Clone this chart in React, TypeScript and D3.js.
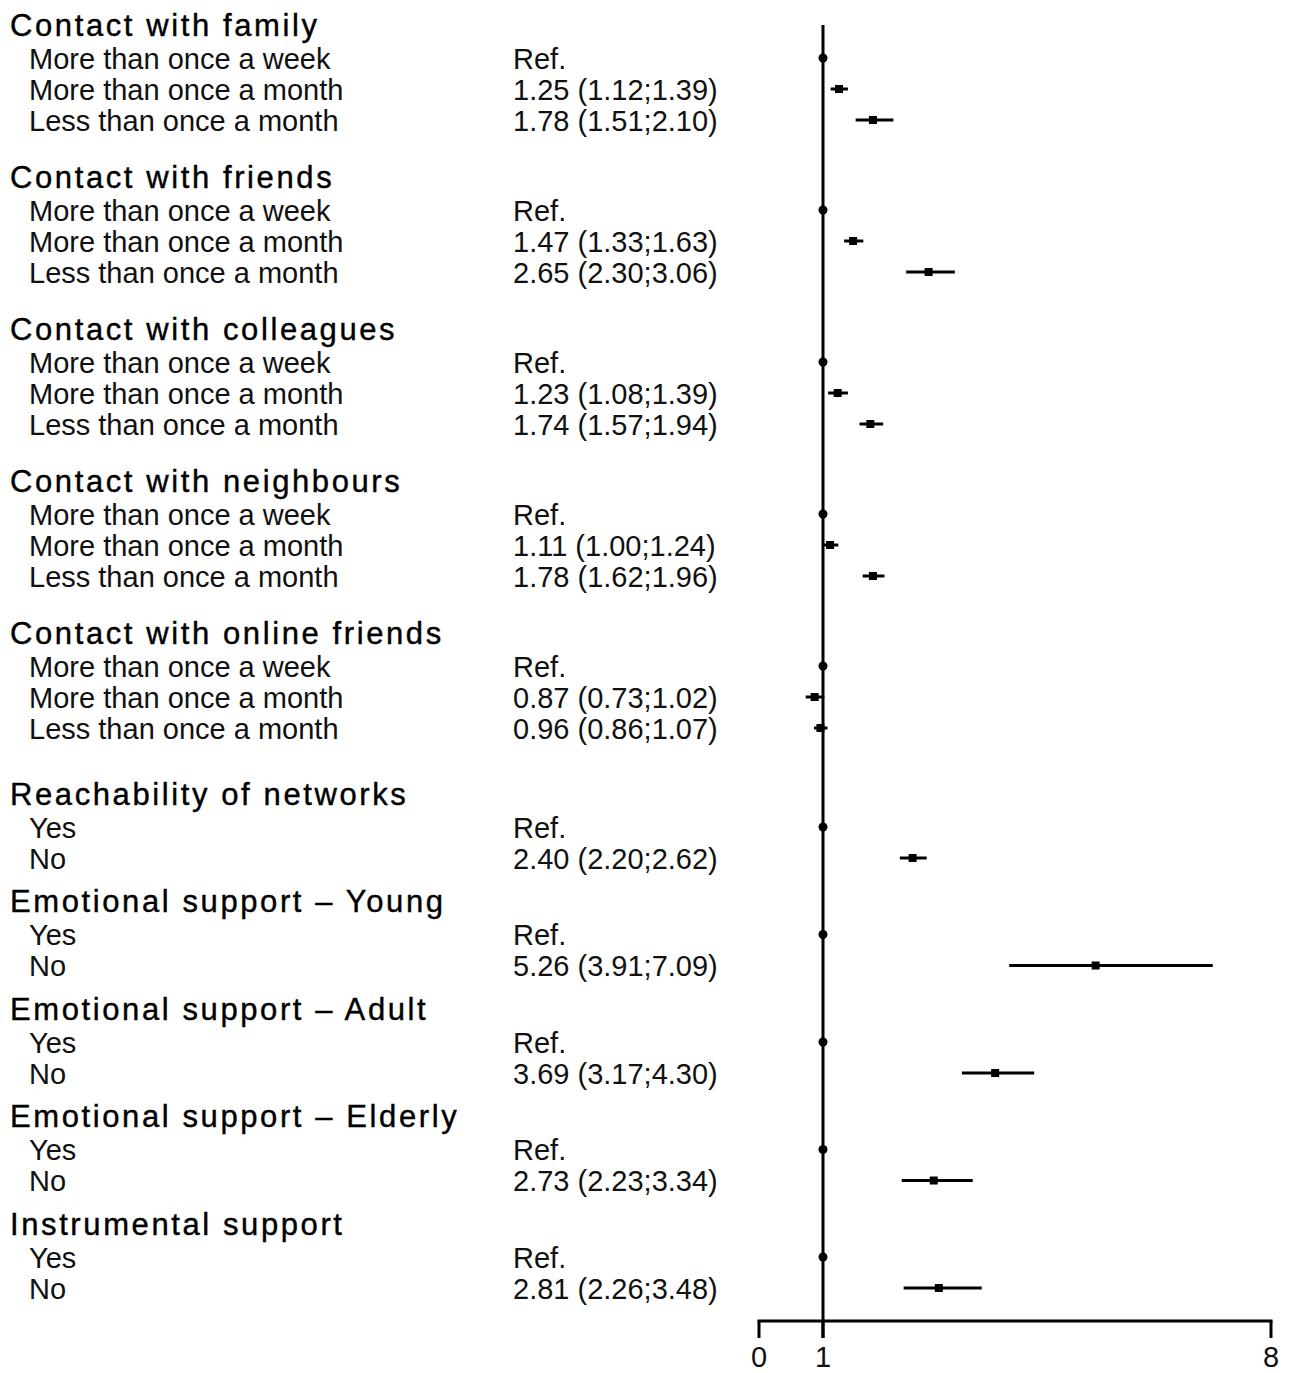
import React from "react";
import * as d3 from "d3";

// ---- data ----
const groupTitles = [
  "Contact with family",
  "Contact with friends",
  "Contact with colleagues",
  "Contact with neighbours",
  "Contact with online friends",
  "Reachability of networks",
  "Emotional support \u2013 Young",
  "Emotional support \u2013 Adult",
  "Emotional support \u2013 Elderly",
  "Instrumental support",
];
const freqLevels = ["More than once a week", "More than once a month", "Less than once a month"];
const yesNoLevels = ["Yes", "No"];

// estimate, lower, upper (null = reference)
const family = [null, [1.25, 1.12, 1.39], [1.78, 1.51, 2.1]];
const friends = [null, [1.47, 1.33, 1.63], [2.65, 2.3, 3.06]];
const colleagues = [null, [1.23, 1.08, 1.39], [1.74, 1.57, 1.94]];
const neighbours = [null, [1.11, 1.0, 1.24], [1.78, 1.62, 1.96]];
const onlineFriends = [null, [0.87, 0.73, 1.02], [0.96, 0.86, 1.07]];
const reachability = [null, [2.4, 2.2, 2.62]];
const emoYoung = [null, [5.26, 3.91, 7.09]];
const emoAdult = [null, [3.69, 3.17, 4.3]];
const emoElderly = [null, [2.73, 2.23, 3.34]];
const instrumental = [null, [2.81, 2.26, 3.48]];

const groupValues = [family, friends, colleagues, neighbours, onlineFriends, reachability, emoYoung, emoAdult, emoElderly, instrumental];
const groupLevels = [freqLevels, freqLevels, freqLevels, freqLevels, freqLevels, yesNoLevels, yesNoLevels, yesNoLevels, yesNoLevels, yesNoLevels];

const axisTicks = [0, 1, 8];
const refValue = 1;

function fmt(v: number[] | null) {
  if (!v) return "Ref.";
  const f = d3.format(".2f");
  return `${f(v[0])} (${f(v[1])};${f(v[2])})`;
}

export default function App() {
  const W = 1291;
  const H = 1373;
  const x = d3.scaleLinear().domain([0, 8]).range([759, 1271]);

  // layout
  const headerToItem = 33;
  const itemStep = 31;
  type Row = { kind: "h" | "i"; y: number; label: string; val?: number[] | null };
  const rows: Row[] = [];
  let y = 25;
  groupTitles.forEach((t, gi) => {
    rows.push({ kind: "h", y, label: t });
    const levels = groupLevels[gi];
    levels.forEach((lv, li) => {
      rows.push({ kind: "i", y: y + headerToItem + itemStep * li, label: lv, val: groupValues[gi][li] as any });
    });
    const lastY = y + headerToItem + itemStep * (levels.length - 1);
    const next = gi + 1 < groupTitles.length ? groupLevels[gi + 1].length : 0;
    let gap = levels.length === 3 ? 57 : 43.5;
    if (levels.length === 3 && next === 2) gap = 66;
    y = lastY + gap;
  });

  const axisY = 1321;
  const tickLen = 17;
  const font = "'Liberation Sans', Arial, Helvetica, sans-serif";

  return (
    <svg width={W} height={H} style={{ position: "absolute", left: 0, top: 0, background: "#fff" }} fontFamily={font}>
      <rect width={W} height={H} fill="#fff" />
      {rows.map((r, i) =>
        r.kind === "h" ? (
          <text key={i} x={10} y={r.y + 10.5} fontSize={31} letterSpacing={2.6} fill="#000" stroke="#000" strokeWidth={0.4}>
            {r.label}
          </text>
        ) : (
          <g key={i}>
            <text x={29} y={r.y + 10.5} fontSize={29} fill="#111">
              {r.label}
            </text>
            <text x={513} y={r.y + 10.5} fontSize={29} fill="#111">
              {fmt(r.val as any)}
            </text>
          </g>
        )
      )}
      {/* reference line */}
      <line x1={x(refValue)} x2={x(refValue)} y1={25} y2={axisY + tickLen} stroke="#000" strokeWidth={3} />
      {/* axis */}
      <line x1={x(0) - 1.5} x2={x(8) + 1.5} y1={axisY} y2={axisY} stroke="#000" strokeWidth={3} />
      {axisTicks.map((t) => (
        <g key={t}>
          <line x1={x(t)} x2={x(t)} y1={axisY} y2={axisY + tickLen} stroke="#000" strokeWidth={3} />
          <text x={x(t)} y={1367} fontSize={29} textAnchor="middle" fill="#111">
            {t}
          </text>
        </g>
      ))}
      {/* estimates */}
      {rows
        .filter((r) => r.kind === "i")
        .map((r, i) =>
          r.val ? (
            <g key={i}>
              <line x1={x(r.val[1])} x2={x(r.val[2])} y1={r.y} y2={r.y} stroke="#000" strokeWidth={3} />
              <rect x={x(r.val[0]) - 4} y={r.y - 4} width={8} height={8} fill="#000" />
            </g>
          ) : (
            <circle key={i} cx={x(refValue)} cy={r.y} r={4.5} fill="#000" />
          )
        )}
    </svg>
  );
}
